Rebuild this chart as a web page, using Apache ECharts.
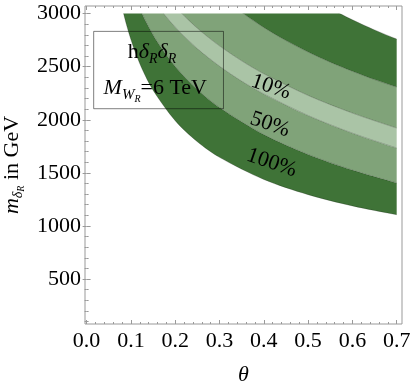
<!DOCTYPE html>
<html>
<head>
<meta charset="utf-8">
<script src="https://cdn.jsdelivr.net/npm/echarts@6/dist/echarts.min.js"></script>
<style>
  html, body { margin: 0; padding: 0; background: #fff; }
  #chart { width: 411px; height: 387px; }
</style>
</head>
<body>
<div id="chart"></div>
<script>
var myChart = echarts.init(document.getElementById('chart'))
var serif = 'Liberation Serif'

// axis ticks
var thetaTicks = [0, 0.1, 0.2, 0.3, 0.4, 0.5, 0.6, 0.7]
var massTicks = [500, 1000, 1500, 2000, 2500, 3000]

// contour boundaries (theta, mass in GeV);
// first/last point of each sits just outside the plotted region (clipped)
var aTheta = [0.0752, 0.0834, 0.09, 0.1, 0.11, 0.125, 0.15, 0.2, 0.25, 0.3, 0.4, 0.5, 0.6, 0.7, 0.73]
var aMass = [3150, 3000, 2895, 2755, 2635, 2481, 2278, 1991, 1793, 1646, 1438, 1295, 1189, 1106, 1084]
var bTheta = [0.109, 0.125, 0.14, 0.16, 0.2, 0.25, 0.3, 0.4, 0.5, 0.6, 0.7, 0.73]
var bMass = [3150, 3000, 2875, 2731, 2502, 2285, 2115, 1860, 1673, 1526, 1405, 1372]
var cTheta = [0.1476, 0.174, 0.19, 0.21, 0.25, 0.3, 0.35, 0.4, 0.5, 0.6, 0.7, 0.73]
var cMass = [3150, 3000, 2920, 2829, 2670, 2505, 2364, 2243, 2040, 1874, 1734, 1696]
var dTheta = [0.1824, 0.215, 0.23, 0.26, 0.3, 0.35, 0.4, 0.5, 0.6, 0.7, 0.73]
var dMass = [3150, 3000, 2938, 2826, 2696, 2555, 2433, 2229, 2063, 1922, 1884]
var eTheta = [0.3086, 0.354, 0.4, 0.45, 0.5, 0.55, 0.6, 0.65, 0.7, 0.73]
var eMass = [3150, 3000, 2869, 2746, 2638, 2542, 2457, 2378, 2308, 2268]
var fTheta = [0.5082, 0.572, 0.6, 0.65, 0.7, 0.73]
var fMass = [3150, 3000, 2941, 2846, 2760, 2712]

// contour labels
var labelText = ['10%', '50%', '100%']
var labelTheta = [0.416, 0.414, 0.418]
var labelMass = [2308, 1954, 1593]

// plotted region of the contour plot
var thetaEnd = 0.7, massTop = 3000

var dark = '#3f7337'
var mid = '#80a379'
var light = '#aac4a6'

function pairs(t, m) {
  return t.map(function (v, i) { return [v, m[i]] })
}
var curves = [pairs(aTheta, aMass), pairs(bTheta, bMass), pairs(cTheta, cMass),
  pairs(dTheta, dMass), pairs(eTheta, eMass), pairs(fTheta, fMass)]
// band = [lower curve, upper curve, colour]
var bands = [[0, 1, dark], [1, 2, mid], [2, 3, light], [3, 4, mid], [4, 5, dark]]

var xMin = -0.0036, xMax = 0.712, yMin = 77, yMax = 3071
var thetaMinor = [], massMinor = []
for (var i = 1; i < 36; i++) if (i % 5) thetaMinor.push(i * 0.02)
for (var j = 1; j < 31; j++) if (j % 5) massMinor.push(j * 100)

var frameColor = '#999'
function axis(dim, pos, vals, len, withLabels) {
  return {
    type: 'value',
    position: pos,
    min: dim === 'x' ? xMin : yMin,
    max: dim === 'x' ? xMax : yMax,
    splitLine: { show: false },
    axisLine: { show: false },
    axisTick: { show: true, inside: true, length: len, customValues: vals, lineStyle: { color: frameColor } },
    axisLabel: {
      show: withLabels,
      customValues: vals,
      margin: dim === 'x' ? 6 : 4,
      color: '#000',
      fontFamily: serif,
      fontSize: 22,
      formatter: function (v) { return dim === 'x' ? v.toFixed(1) : String(v) }
    }
  }
}

var xAxes = [axis('x', 'bottom', thetaTicks, 4, true), axis('x', 'bottom', thetaMinor, 2, false),
  axis('x', 'top', thetaTicks, 4, false), axis('x', 'top', thetaMinor, 2, false)]
var yAxes = [axis('y', 'left', massTicks, 4, true), axis('y', 'left', massMinor, 2, false),
  axis('y', 'right', massTicks, 4, false), axis('y', 'right', massMinor, 2, false)]

xAxes[0].name = '{t|θ}'
xAxes[0].nameLocation = 'middle'
xAxes[0].nameGap = 40
xAxes[0].nameTextStyle = { rich: { t: { fontFamily: serif, fontSize: 22, fontStyle: 'italic', color: '#000' } } }

// rich text pieces, all bottom aligned; bottom padding sets the baseline shift
function tok(size, italic, pb) {
  return { fontFamily: serif, fontSize: size, fontStyle: italic ? 'italic' : 'normal', color: '#000',
    verticalAlign: 'bottom', padding: [0, 0, pb, 0] }
}
var nameRich = { m: tok(22, true, 8), n: tok(22, false, 8), s: tok(14, true, 6), ss: tok(10, true, 5) }
var hRich = { n: tok(22, false, 8), m: tok(22, true, 8), s: tok(14, true, 5) }
var wRich = { m: tok(22, true, 8), n: tok(22, false, 8), s: tok(15, true, 4), ss: tok(10, true, 3) }

yAxes[0].name = '{m|m}{s|δ}{ss|R}{n| in GeV}'
yAxes[0].nameLocation = 'middle'
yAxes[0].nameRotate = 90
yAxes[0].nameGap = 45
yAxes[0].nameTextStyle = { rich: nameRich }

function clipRect(api) {
  var tl = api.coord([xMin, massTop]), br = api.coord([thetaEnd, yMin])
  return { type: 'rect', shape: { x: tl[0], y: tl[1], width: br[0] - tl[0], height: br[1] - tl[1] } }
}
function toPx(api, c) {
  return c.map(function (p) { return api.coord(p) })
}

var series = [{
  type: 'custom',
  coordinateSystem: 'cartesian2d',
  silent: true,
  z: 1,
  data: bands.map(function (b, k) { return [k, k] }),
  renderItem: function (params, api) {
    var b = bands[params.dataIndex]
    var pts = toPx(api, curves[b[0]]).concat(toPx(api, curves[b[1]]).reverse())
    return {
      type: 'group',
      clipPath: clipRect(api),
      children: [{ type: 'polygon', shape: { points: pts, smooth: 0.3 }, style: { fill: b[2] } }]
    }
  }
}, {
  type: 'custom',
  coordinateSystem: 'cartesian2d',
  silent: true,
  z: 2,
  data: curves.map(function (c, k) { return [k, k] }),
  renderItem: function (params, api) {
    return {
      type: 'group',
      clipPath: clipRect(api),
      children: [{
        type: 'polyline',
        shape: { points: toPx(api, curves[params.dataIndex]), smooth: 0.3 },
        style: { stroke: 'rgba(0,0,0,0.35)', lineWidth: 0.6, fill: null }
      }]
    }
  }
}]

// annotations: framed note, its text and the contour labels
series.push({
  type: 'line',
  data: [],
  z: 5,
  silent: true,
  markArea: {
    z: 10,
    silent: true,
    itemStyle: { color: 'rgba(0,0,0,0)', borderColor: 'rgba(0,0,0,0.5)', borderWidth: 1 },
    label: { show: false },
    data: [[{ coord: [0.016, 2832] }, { coord: [0.309, 2104] }]]
  },
  markPoint: {
    z: 11,
    symbol: 'circle',
    symbolSize: 0,
    silent: true,
    label: { show: true, position: 'inside', color: '#000', fontFamily: serif, fontSize: 22 },
    data: [
      { coord: [0.1475, 2594], label: { formatter: '{n|h}{m|δ}{s|R}{m|δ}{s|R}', rich: hRich } },
      { coord: [0.155, 2261], label: { formatter: '{m|M}{s|W}{ss|R}{n|=6 TeV}', rich: wRich } }
    ].concat(labelText.map(function (t, k) {
      return { coord: [labelTheta[k], labelMass[k]], label: { formatter: t, rotate: -19 } }
    }))
  }
})

option = {
  animation: false,
  grid: {
    left: 85, right: 9, top: 6, bottom: 63,
    show: true, borderColor: frameColor, borderWidth: 1,
    outerBoundsMode: 'none'
  },
  xAxis: xAxes,
  yAxis: yAxes,
  series: series
}
myChart.setOption(option)
</script>
</body>
</html>
